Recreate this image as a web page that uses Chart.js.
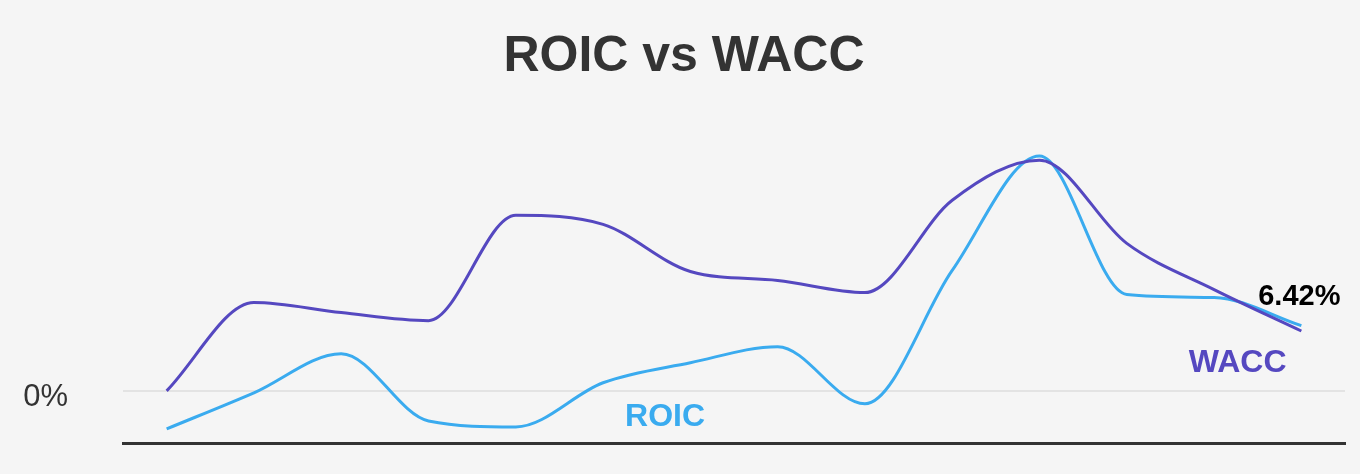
<!DOCTYPE html>
<html>
<head>
<meta charset="utf-8">
<script src="https://cdn.jsdelivr.net/npm/chart.js@4/dist/chart.umd.min.js"></script>
<style>
  html, body { margin: 0; padding: 0; background: #f5f5f5; overflow: hidden; }
  canvas { display: block; }
</style>
</head>
<body>
<canvas id="chart" width="1360" height="474"></canvas>
<script>
// ── data (percent) ──
const periods = ['1', '2', '3', '4', '5', '6', '7', '8', '9', '10', '11', '12', '13', '14'];
const wacc = [0.05, 9.45, 8.38, 7.52, 18.73, 17.77, 12.75, 11.79, 10.51, 20.33, 24.60, 15.74, 10.83, 6.42];
const roic = [-4.00, -0.16, 4.00, -3.15, -3.79, 0.91, 3.04, 4.75, -1.33, 12.86, 25.03, 10.30, 9.98, 6.99];
const yTicks = [0];

const C = {
  wacc:  '#5548c0',
  roic:  '#3aabef',
  text:  '#333333',
  grid:  '#e3e3e3',
  axis:  '#333333',
  font:  '"Liberation Sans", Arial, Helvetica, sans-serif',
};

// series name labels + last-value label, placed in data space
const labelPlugin = {
  id: 'seriesLabels',
  afterDatasetsDraw(chart) {
    const { ctx, scales: { x, y } } = chart;
    const last = wacc.length - 1;
    ctx.save();
    ctx.textAlign = 'center';
    ctx.textBaseline = 'middle';

    ctx.font = `bold 32px ${C.font}`;
    ctx.fillStyle = C.roic;
    ctx.fillText('ROIC', x.getPixelForValue(5.71), y.getPixelForValue(-2.72));

    ctx.fillStyle = C.wacc;
    ctx.fillText('WACC', x.getPixelForValue(12.27), y.getPixelForValue(3.04));

    ctx.font = `bold 29px ${C.font}`;
    ctx.fillStyle = '#000000';
    ctx.fillText(wacc[last].toFixed(2) + '%', x.getPixelForValue(last) - 2, y.getPixelForValue(wacc[last]) - 34);
    ctx.restore();
  },
};

new Chart(document.getElementById('chart'), {
  type: 'line',
  data: {
    labels: periods,
    datasets: [
      {
        label: 'WACC',
        data: wacc,
        borderColor: C.wacc,
        borderWidth: 3,
        pointRadius: 0,
        cubicInterpolationMode: 'monotone',
        fill: false,
      },
      {
        label: 'ROIC',
        data: roic,
        borderColor: C.roic,
        borderWidth: 3,
        pointRadius: 0,
        cubicInterpolationMode: 'monotone',
        fill: false,
      },
    ],
  },
  options: {
    responsive: false,
    animation: false,
    layout: { padding: { left: 23, right: 15, top: 0, bottom: 31 } },
    plugins: {
      legend: { display: false },
      tooltip: { enabled: false },
      title: {
        display: true,
        text: 'ROIC vs WACC',
        color: C.text,
        font: { family: C.font, size: 50, weight: 'bold' },
        padding: { top: 27, bottom: 13 },
      },
    },
    scales: {
      x: {
        offset: true,
        grid: { display: false },
        border: { display: true, color: C.axis, width: 3 },
        ticks: { display: false },
        afterFit: s => { s.height = 0; },
      },
      y: {
        min: -5.5,
        max: 31,
        afterBuildTicks: axis => { axis.ticks = yTicks.map(v => ({ value: v })); },
        // fixed axis width; the big tick padding must not push the plot area up
        afterFit: s => { s.width = 100; s.paddingTop = 0; s.paddingBottom = 0; },
        grid: { color: C.grid, lineWidth: 2, drawTicks: false },
        border: { display: false },
        ticks: {
          color: C.text,
          padding: 55,
          labelOffset: 6,
          font: { family: C.font, size: 31 },
          callback: v => v + '%',
        },
      },
    },
  },
  plugins: [labelPlugin],
});
</script>
</body>
</html>
